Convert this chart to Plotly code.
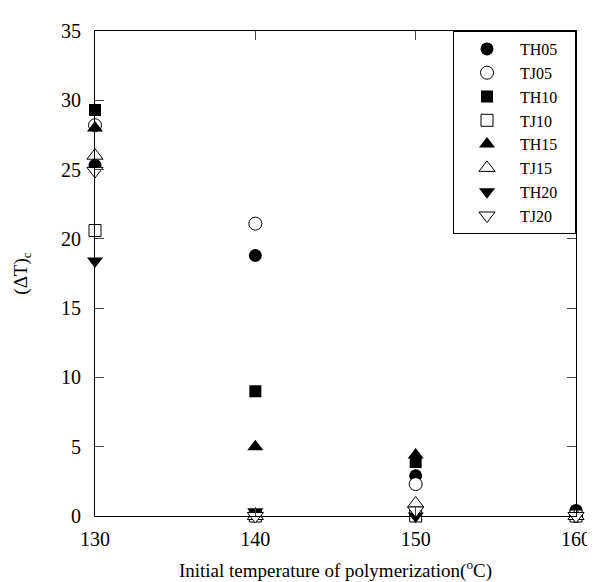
import plotly.graph_objects as go

temps = [130, 140, 150, 160]
series_names = ["TH05", "TJ05", "TH10", "TJ10", "TH15", "TJ15", "TH20", "TJ20"]
TH05 = [25.3, 18.8, 2.9, 0.4]
TJ05 = [28.2, 21.1, 2.3, 0.0]
TH10 = [29.3, 9.0, 3.9, 0.0]
TJ10 = [20.6, 0.0, 0.0, 0.0]
TH15 = [28.0, 5.0, 4.4, 0.0]
TJ15 = [26.0, 0.0, 0.9, 0.0]
TH20 = [18.4, 0.3, 0.0, 0.0]
TJ20 = [24.9, 0.0, 0.4, 0.0]
values = [TH05, TJ05, TH10, TJ10, TH15, TJ15, TH20, TJ20]
symbols = ["circle", "circle-open", "square", "square-open",
           "triangle-up", "triangle-up-open", "triangle-down", "triangle-down-open"]
sizes = [13, 13, 12, 12, 14, 14, 14, 14]

fig = go.Figure()
for name, vals, sym, sz in zip(series_names, values, symbols, sizes):
    open_ = sym.endswith("open")
    fig.add_trace(go.Scatter(
        x=temps, y=vals, mode="markers", name=name + "\u00a0\u00a0\u00a0",
        cliponaxis=False,
        marker=dict(symbol=sym.replace("-open", "") if open_ else sym, size=sz,
                    color="white" if open_ else "black",
                    line=dict(color="black", width=1 if open_ else 0)),
    ))

font = "Liberation Serif, Times New Roman, serif"
fig.update_layout(
    width=595, height=582,
    margin=dict(l=86, r=18, t=21, b=74),
    paper_bgcolor="white", plot_bgcolor="white",
    font=dict(family=font, size=20, color="black"),
    showlegend=True,
    legend=dict(x=1, xanchor="right", y=1, yanchor="top",
                bgcolor="white", bordercolor="black", borderwidth=1,
                font=dict(size=16, family=font), itemwidth=56,
                tracegroupgap=0),
    xaxis=dict(range=[130, 160], tickvals=temps, ticks="inside", ticklen=9,
               showline=True, linecolor="black", linewidth=1, mirror="ticks",
               showgrid=False, zeroline=False, ticklabelstandoff=5,
               title=dict(text="Initial temperature of polymerization(<sup>o</sup>C)",
                          font=dict(size=19), standoff=14)),
    yaxis=dict(range=[0, 35], dtick=5, ticks="inside", ticklen=9,
               showline=True, linecolor="black", linewidth=1, mirror="ticks",
               showgrid=False, zeroline=False, ticklabelstandoff=9,
               title=dict(text="(ΔT)<sub>c</sub>", font=dict(size=19), standoff=28)),
)
fig.write_html("out.html")
